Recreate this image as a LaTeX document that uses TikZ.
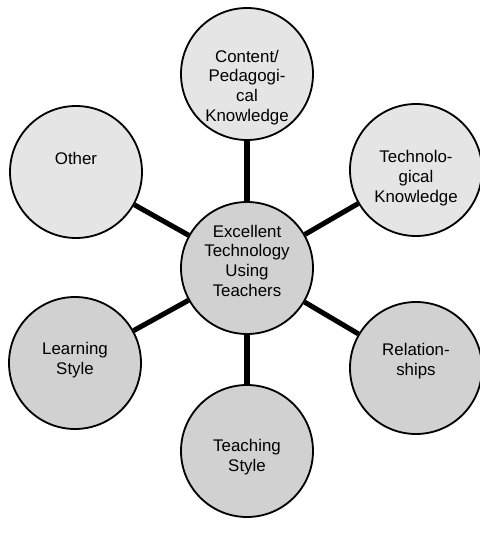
\documentclass[tikz,border=0pt]{standalone}
\usepackage{fontspec}
\setmainfont{Liberation Sans}
\usetikzlibrary{calc,math}

\tikzset{
  ring/.style={circle,draw,line width=1.3pt,minimum size=3.3cm,inner sep=0pt},
  ringtext/.style={align=center,font=\fontsize{12}{14}\selectfont},
  spoke/.style={line width=3.6pt}
}

\begin{document}
\begin{tikzpicture}
  \tikzmath{
    real \light, \dark;
    \light=20; \dark=36;
  }
  \coordinate (mid) at (6.175,6.625);

  \path[use as bounding box] (0,0) rectangle (12,13.325);

  \node[ring,fill=gray!\dark,label={[ringtext,yshift=0.18cm]center:{Excellent\\Technology\\Using\\Teachers}}] (teachers) at (mid) {};

  \node[ring,fill=gray!\light,label={[ringtext,yshift=-0.33cm]center:{Content/\\Pedagogi-\\cal\\Knowledge}}] (content) at (6.175,11.475) {};
  \node[ring,fill=gray!\light,label={[ringtext,yshift=-0.2cm]center:{Technolo-\\gical\\Knowledge}}] (techno) at (10.4,9.075) {};
  \node[ring,fill=gray!\dark,label={[ringtext,yshift=0.17cm]center:{Relation-\\ships}}] (relations) at (10.4,4.125) {};
  \node[ring,fill=gray!\dark,label={[ringtext,yshift=-0.15cm]center:{Teaching\\Style}}] (teaching) at (6.175,2.05) {};
  \node[ring,fill=gray!\dark,label={[ringtext,yshift=0.08cm]center:{Learning\\Style}}] (learning) at (1.875,4.25) {};
  \node[ring,fill=gray!\light,label={[ringtext,yshift=0.35cm]center:{Other}}] (other) at (1.9,9.025) {};

  \foreach \n in {content,techno,relations,teaching,learning,other} {
    \draw[spoke] (teachers) -- (\n);
  }
\end{tikzpicture}
\end{document}
